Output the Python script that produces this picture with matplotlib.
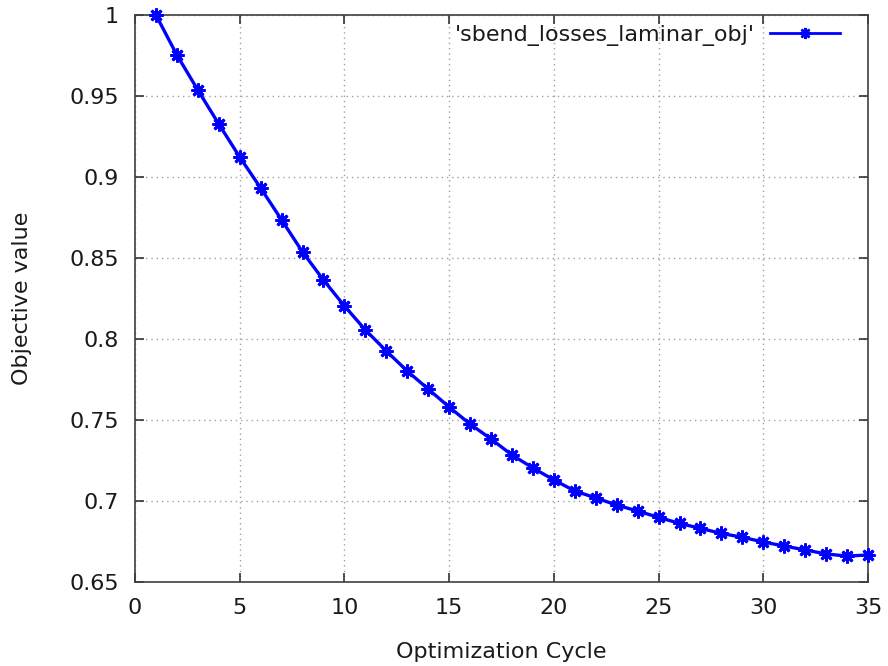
import matplotlib
matplotlib.use("Agg")
import matplotlib.pyplot as plt

cycles = list(range(1, 36))
objective = [1.0, 0.9753, 0.9537, 0.9327, 0.9123, 0.8932, 0.8735, 0.8537, 0.8364, 0.8204,
             0.8056, 0.7926, 0.7802, 0.7691, 0.7580, 0.7475, 0.7383, 0.7284, 0.7204, 0.7130,
             0.7062, 0.7019, 0.6975, 0.6938, 0.6899, 0.6862, 0.6831, 0.6800, 0.6776, 0.6747,
             0.6722, 0.6698, 0.6673, 0.6660, 0.6667]
xticks = [0, 5, 10, 15, 20, 25, 30, 35]
yticks = [0.65, 0.7, 0.75, 0.8, 0.85, 0.9, 0.95, 1.0]
ytick_labels = ["0.65", "0.7", "0.75", "0.8", "0.85", "0.9", "0.95", "1"]

plt.rcParams['font.family'] = ['DejaVu Sans']
FS = 16
fig = plt.figure(figsize=(8.88, 6.66), dpi=100)
ax = fig.add_axes([135/888, 1 - 582/666, (868-135)/888, (582-15)/666])

ax.plot(cycles, objective, color='#0000ff', lw=2.4, marker=(8, 2, 0), ms=10, mew=2.0,
        label="'sbend_losses_laminar_obj'", clip_on=False, zorder=3)

ax.set_xlim(0, 35)
ax.set_ylim(0.65, 1.0)
ax.set_xticks(xticks)
ax.set_yticks(yticks)
ax.set_yticklabels(ytick_labels)
ax.tick_params(direction='in', length=6.5, width=1.2, top=True, right=True,
               labelsize=FS, pad=11.5, color='#333333', labelcolor='#1a1a1a')
ax.grid(True, color='#a0a0a0', linestyle=(0, (1, 2.8)), linewidth=1.0)
for s in ax.spines.values():
    s.set_color('#404040')
    s.set_linewidth(1.2)

fig.text(501.5/888, 1 - 652/666, 'Optimization Cycle', fontsize=FS, ha='center', va='center',
         color='#1a1a1a')
fig.text(22/888, 1 - 298.5/666, 'Objective value', fontsize=FS, ha='center', va='center',
         rotation=90, color='#1a1a1a')

leg = ax.legend(loc='upper right', frameon=False, markerfirst=False, fontsize=FS,
                handlelength=3.15, handletextpad=0.68, borderpad=0, borderaxespad=0,
                bbox_to_anchor=((840-135)/733, (582-25)/567))
for t in leg.get_texts():
    t.set_color('#1a1a1a')
h = leg.legend_handles[0]
h.set_linewidth(2.0)
h.set_markersize(8)
h.set_markeredgewidth(1.8)

fig.savefig('out.png', dpi=100)
